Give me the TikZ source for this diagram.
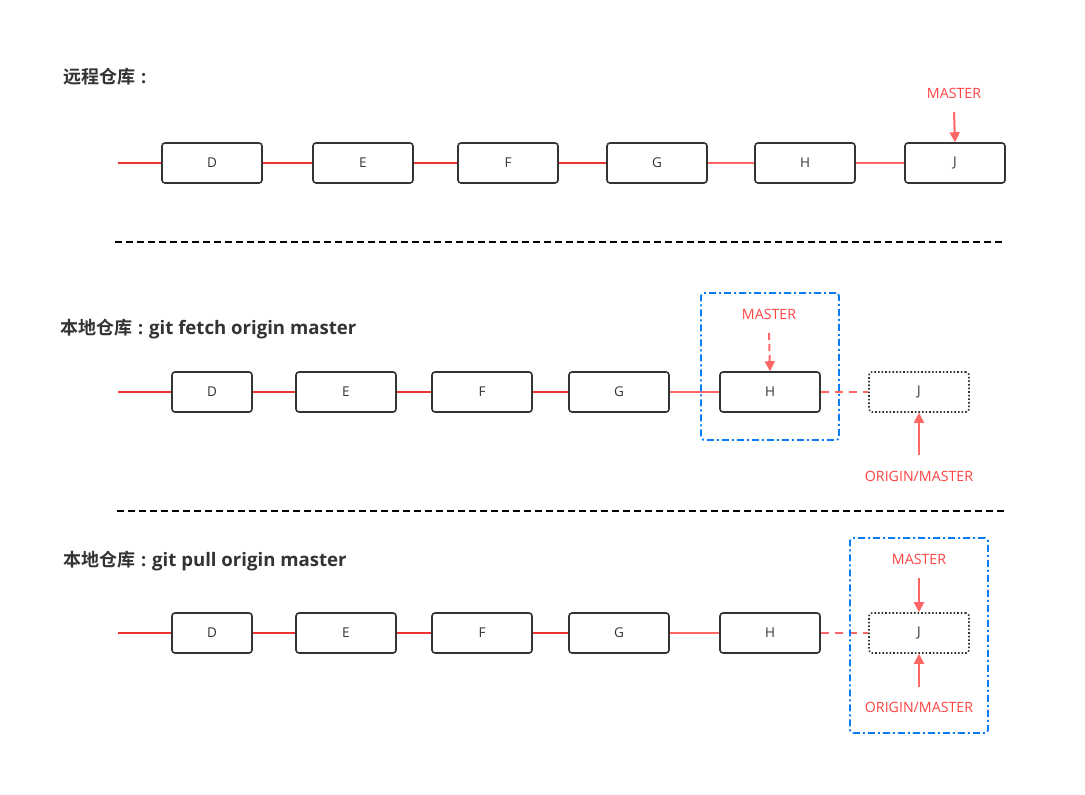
\documentclass[tikz,border=0pt]{standalone}
\usepackage{fontspec}
\setmainfont{Open Sans}
\newfontfamily\cjkb{Noto Sans CJK SC Bold}
\newfontfamily\latb{Open Sans Bold}
\usetikzlibrary{arrows.meta}
\definecolor{txt}{HTML}{333333}
\definecolor{redl}{HTML}{EE3333}
\definecolor{coral}{HTML}{FF6666}
\definecolor{blu}{HTML}{0A7DF5}
\definecolor{lab}{HTML}{FF4444}
\newcommand{\cjkcolon}{\hbox to 17pt{\hss\latb:\hss}}
\tikzset{
  commit/.style={draw=txt, line width=1.6pt, rounded corners=3pt, minimum width=100pt, minimum height=40pt, inner sep=0pt, text=txt, font=\fontsize{13.5}{13.5}\selectfont},
  scommit/.style={commit, minimum width=80pt},
  ghost/.style={commit, dotted, line width=1.6pt},
  link/.style={draw=redl, line width=1.6pt},
  slink/.style={draw=coral, line width=1.6pt},
  dlink/.style={draw=coral, line width=1.6pt, dash pattern=on 8pt off 6pt},
  ptr/.style={draw=coral, line width=2pt, -{Triangle[length=10pt,width=10pt]}},
  lbl/.style={text=lab, font=\fontsize{14.2}{14.2}\selectfont, inner sep=0pt},
  title/.style={text=txt, font=\fontsize{18}{18}\selectfont, anchor=west, inner sep=0pt},
  sep/.style={draw=black, line width=1.6pt, dash pattern=on 7pt off 4pt},
  group/.style={draw=blu, line width=1.8pt, rounded corners=3pt, dash pattern=on 7pt off 3pt on 2pt off 3pt},
}
\begin{document}
\begin{tikzpicture}[x=1pt,y=-1pt]
\useasboundingbox[fill=white] (0,0) rectangle (1085,795);
% Row 1
\node[title] (t1) at (63,77) {\cjkb 远程仓库\cjkcolon};
\coordinate (s1) at (118,163);
\node[commit] (d1) at (212,163) {D};
\node[commit] (e1) at (363,163) {E};
\node[commit] (f1) at (508,163) {F};
\node[commit] (g1) at (657,163) {G};
\node[commit] (h1) at (805,163) {H};
\node[commit] (j1) at (955,163) {J};
\draw[link] (s1) -- (d1);
\draw[link] (d1) -- (e1);
\draw[link] (e1) -- (f1);
\draw[link] (f1) -- (g1);
\draw[slink] (g1) -- (h1);
\draw[slink] (h1) -- (j1);
\node[lbl] (m1) at (954,93) {MASTER};
\coordinate (m1s) at (954,112);
\draw[ptr] (m1s) -- (j1.north);
% separator 1
\coordinate (a1) at (115,242);
\coordinate (b1) at (1003,242);
\draw[sep] (a1) -- (b1);
% Row 2
\node[title] (t2) at (60,329) {\cjkb 本地仓库\cjkcolon\latb\fontsize{18.6}{18.6}\selectfont git fetch origin master};
\coordinate (s2) at (118,392);
\node[scommit] (d2) at (212,392) {D};
\node[commit] (e2) at (346,392) {E};
\node[commit] (f2) at (482,392) {F};
\node[commit] (g2) at (619,392) {G};
\node[commit] (h2) at (770,392) {H};
\node[ghost] (j2) at (919,392) {J};
\draw[link] (s2) -- (d2);
\draw[link] (d2) -- (e2);
\draw[link] (e2) -- (f2);
\draw[link] (f2) -- (g2);
\draw[slink] (g2) -- (h2);
\draw[dlink] (h2) -- (j2);
\node[group, minimum width=138pt, minimum height=147pt] (grp2) at (770,366.5) {};
\node[lbl] (m2) at (769,314) {MASTER};
\coordinate (m2s) at (769,333);
\draw[ptr, dash pattern=on 7pt off 4pt] (m2s) -- (h2.north);
\node[lbl] (o2) at (919,476) {ORIGIN/MASTER};
\coordinate (o2s) at (919,455);
\draw[ptr] (o2s) -- (j2.south);
% separator 2
\coordinate (a2) at (117,511);
\coordinate (b2) at (1005,511);
\draw[sep] (a2) -- (b2);
% Row 3
\node[title] (t3) at (63,561) {\cjkb 本地仓库\cjkcolon\latb\fontsize{18.6}{18.6}\selectfont git pull origin master};
\coordinate (s3) at (118,633);
\node[scommit] (d3) at (212,633) {D};
\node[commit] (e3) at (346,633) {E};
\node[commit] (f3) at (482,633) {F};
\node[commit] (g3) at (619,633) {G};
\node[commit] (h3) at (770,633) {H};
\node[ghost] (j3) at (919,633) {J};
\draw[link] (s3) -- (d3);
\draw[link] (d3) -- (e3);
\draw[link] (e3) -- (f3);
\draw[link] (f3) -- (g3);
\draw[slink] (g3) -- (h3);
\draw[dlink] (h3) -- (j3);
\node[group, minimum width=138pt, minimum height=195pt] (grp3) at (919,635.5) {};
\node[lbl] (m3) at (919,559) {MASTER};
\coordinate (m3s) at (919,578);
\draw[ptr] (m3s) -- (j3.north);
\node[lbl] (o3) at (919,707) {ORIGIN/MASTER};
\coordinate (o3s) at (919,687);
\draw[ptr] (o3s) -- (j3.south);
\end{tikzpicture}
\end{document}
